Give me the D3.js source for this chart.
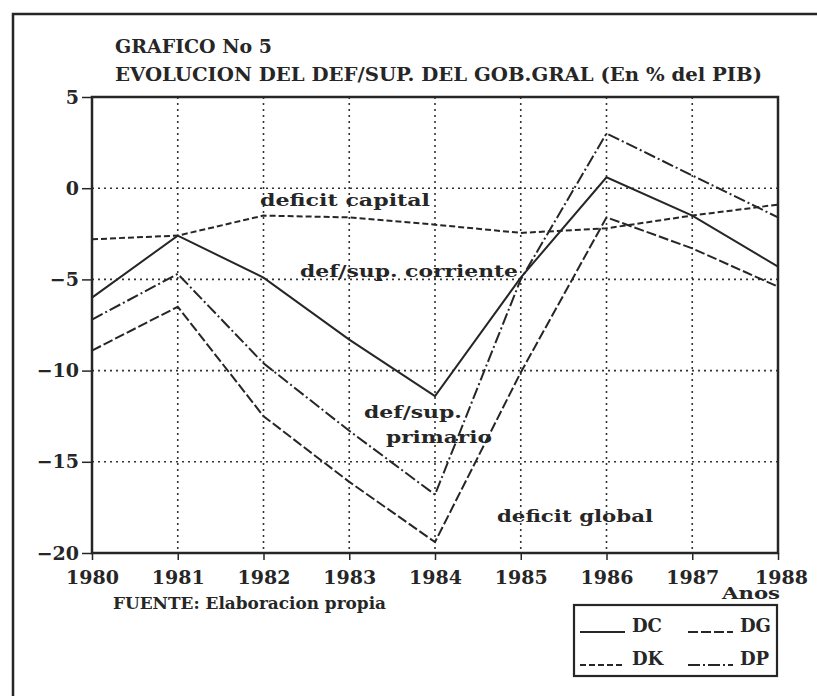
<!DOCTYPE html>
<html>
<head>
<meta charset="utf-8">
<script src="https://cdn.jsdelivr.net/npm/d3@7"></script>
<style>
  body { margin: 0; background: #fff; }
  text { font-family: "DejaVu Serif", serif; font-weight: bold; fill: #262626; }
</style>
</head>
<body>
<svg id="chart" width="817" height="696"></svg>
<script>
// values (% del PIB)
const years = [1980, 1981, 1982, 1983, 1984, 1985, 1986, 1987, 1988];
const DC = [-6.0, -2.6, -4.9, -8.3, -11.4, -4.9, 0.6, -1.5, -4.3];
const DG = [-8.9, -6.5, -12.5, -16.1, -19.4, -10.1, -1.6, -3.3, -5.4];
const DK = [-2.8, -2.6, -1.5, -1.6, -2.0, -2.45, -2.2, -1.5, -0.9];
const DP = [-7.2, -4.7, -9.6, -13.3, -16.8, -5.0, 3.0, 0.7, -1.6];
const seriesKeys = ["DC", "DG", "DK", "DP"];
const yTicks = [5, 0, -5, -10, -15, -20];

const seriesValues = { DC: DC, DG: DG, DK: DK, DP: DP };
const dashes = { DC: null, DG: "10,3", DK: "6,3", DP: "12,3,2,3" };
const ink = "#262626";

const svg = d3.select("#chart");
const margin = { top: 97, right: 39, bottom: 143, left: 92 };
const innerWidth = +svg.attr("width") - margin.left - margin.right;
const innerHeight = +svg.attr("height") - margin.top - margin.bottom;

// outer frame (runs off the right and bottom of the scan)
svg.append("path")
  .attr("d", "M13,696V14H817")
  .attr("fill", "none").attr("stroke", ink).attr("stroke-width", 2.5);

const xScale = d3.scaleLinear().domain(d3.extent(years)).range([margin.left, margin.left + innerWidth]);
const yScale = d3.scaleLinear().domain([-20, 5]).range([margin.top + innerHeight, margin.top]);

// dotted grid
svg.selectAll(".vgrid")
  .data(years.slice(1, -1))
  .enter().append("line")
  .attr("x1", d => xScale(d)).attr("x2", d => xScale(d))
  .attr("y1", yScale(5)).attr("y2", yScale(-20))
  .attr("stroke", "#333").attr("stroke-width", 1.6)
  .attr("stroke-dasharray", "2,4");
svg.selectAll(".hgrid")
  .data(yTicks.slice(1, -1))
  .enter().append("line")
  .attr("y1", d => yScale(d)).attr("y2", d => yScale(d))
  .attr("x1", xScale(1980)).attr("x2", xScale(1988))
  .attr("stroke", "#333").attr("stroke-width", 1.6)
  .attr("stroke-dasharray", "2,4");

// axes
const yAxis = d3.axisLeft(yScale).tickValues(yTicks).tickSize(10).tickPadding(3).tickFormat(d3.format("d"));
const xAxis = d3.axisBottom(xScale).tickValues(years).tickSize(7).tickPadding(11).tickFormat(d3.format("d"));

const yAxisG = svg.append("g").attr("transform", `translate(${margin.left},0)`).call(yAxis);
const xAxisG = svg.append("g").attr("transform", `translate(0,${margin.top + innerHeight})`).call(xAxis);
[yAxisG, xAxisG].forEach(a => {
  a.attr("font-family", null).attr("font-size", null);
  a.select(".domain").remove();
  a.selectAll("line").attr("stroke", ink).attr("stroke-width", 1.5);
  a.selectAll("text")
    .style("font-size", "19px")
    .attr("fill", ink);
});
xAxisG.selectAll("text").filter(d => d === 1988).attr("dx", 3);

// plot border
svg.append("rect")
  .attr("x", margin.left).attr("y", margin.top)
  .attr("width", innerWidth).attr("height", innerHeight)
  .attr("fill", "none").attr("stroke", ink).attr("stroke-width", 2.5);

// series
const line = d3.line()
  .x((d, i) => xScale(years[i]))
  .y(d => yScale(d));

svg.selectAll(".serie")
  .data(seriesKeys)
  .enter().append("path")
  .attr("d", k => line(seriesValues[k]))
  .attr("fill", "none")
  .attr("stroke", ink)
  .attr("stroke-width", 2)
  .attr("stroke-dasharray", k => dashes[k]);

// text helper, stretched to the width measured on the scan
const label = (txt, x, y, size, width) => {
  const t = svg.append("text").attr("x", x).attr("y", y)
    .style("font-size", size + "px").text(txt);
  if (width) t.attr("textLength", width).attr("lengthAdjust", "spacingAndGlyphs");
  return t;
};

label("GRAFICO No 5", 115, 53, 18, 157);
label("EVOLUCION DEL DEF/SUP. DEL GOB.GRAL (En % del PIB)", 115, 81, 18, 647);
label("deficit capital", 260, 206, 17, 170);
label("def/sup. corriente", 300, 277, 17, 218);
label("def/sup.", 364, 418, 17, 98);
label("primario", 386, 443, 17, 106);
label("deficit global", 497, 522, 17, 156);
label("Anos", 722, 599, 17, 58);
label("FUENTE: Elaboracion propia", 113, 609, 17, 273);

// legend
const lx = 574, ly = 605;
svg.append("rect")
  .attr("x", lx).attr("y", ly)
  .attr("width", 203).attr("height", 71)
  .attr("fill", "none").attr("stroke", ink).attr("stroke-width", 2.2);

const colX = i => lx + 6 + (i % 2) * 108;
const rowY = i => ly + 27 + Math.floor(i / 2) * 33;
svg.selectAll(".legline")
  .data(seriesKeys)
  .enter().append("line")
  .attr("x1", (d, i) => colX(i)).attr("x2", (d, i) => colX(i) + 45)
  .attr("y1", (d, i) => rowY(i)).attr("y2", (d, i) => rowY(i))
  .attr("stroke", ink).attr("stroke-width", 2)
  .attr("stroke-dasharray", k => dashes[k]);
svg.selectAll(".legtext")
  .data(seriesKeys)
  .enter().append("text")
  .attr("x", (d, i) => colX(i) + 52).attr("y", (d, i) => rowY(i))
  .style("font-size", "18px")
  .text(d => d);

// pin every other text to its own measured length
svg.selectAll("text").filter(function () { return !this.hasAttribute("textLength"); })
  .each(function () { d3.select(this).attr("textLength", this.getComputedTextLength()); });
</script>
</body>
</html>
